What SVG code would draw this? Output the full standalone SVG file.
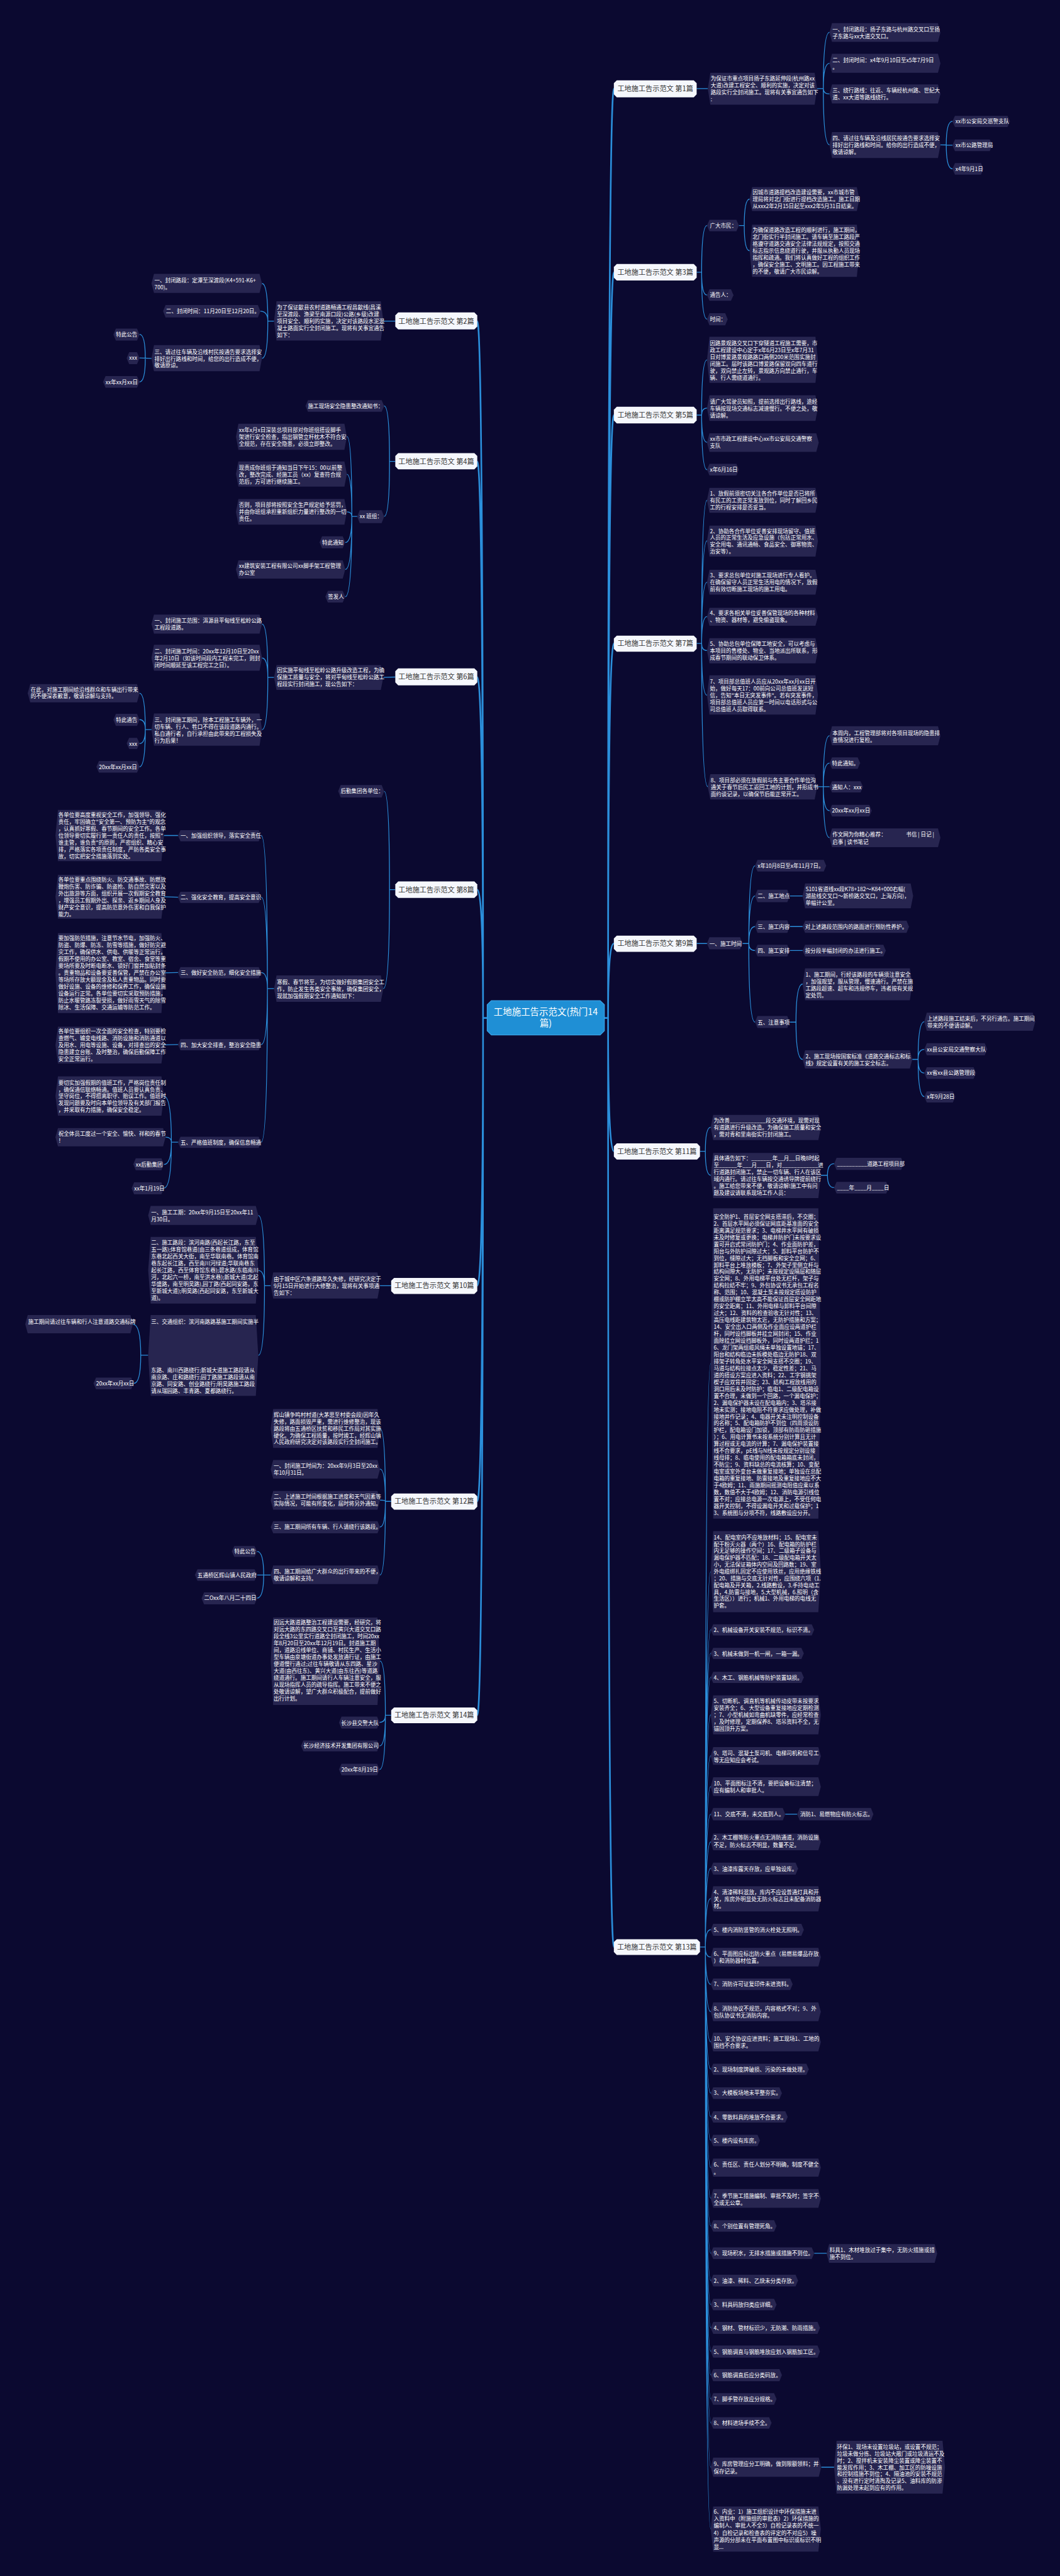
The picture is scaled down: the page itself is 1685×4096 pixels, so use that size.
<svg xmlns="http://www.w3.org/2000/svg" width="1685" height="4096" viewBox="0 0 1685 4096">
<style>
.bg{fill:#0b0930}
.lf{fill:#272550}
.tx{font-family:"Noto Sans CJK SC","Noto Sans",sans-serif;font-size:13px;fill:#ffffff}
.n1{fill:#f5f7fc}
.t1{font-family:"Noto Sans CJK SC","Noto Sans",sans-serif;font-size:17px;fill:#333333;text-anchor:middle}
.cn{fill:#1f8fd5;stroke:#3aa2e6;stroke-width:2}
.tc{font-family:"Noto Sans CJK SC","Noto Sans",sans-serif;font-size:22px;fill:#ffffff;text-anchor:middle}
.ln{fill:none;stroke:#2b8fdb;stroke-width:2}
.tk{fill:none;stroke:#2b8fdb;stroke-width:4}
</style>
<rect class="bg" x="0" y="0" width="1685" height="4096"/>
<g transform="scale(0.658)">
<g id="connectors">
<path class="tk" d="M1460,2460 L1469,2460 Q1469,214 1483,214 M1460,2460 L1469,2460 Q1469,658 1483,658 M1460,2460 L1469,2460 Q1469,1003 1483,1003 M1460,2460 L1469,2460 Q1469,1555 1483,1555 M1460,2460 L1469,2460 Q1469,2280 1483,2280 M1460,2460 L1469,2460 Q1469,2782 1483,2782 M1460,2460 L1469,2460 Q1469,4705 1483,4705"/>
<path class="tk" d="M1177,2460 L1167,2460 Q1167,776 1153,776 M1177,2460 L1167,2460 Q1167,1115 1153,1115 M1177,2460 L1167,2460 Q1167,1636 1153,1636 M1177,2460 L1167,2460 Q1167,2150 1153,2150 M1177,2460 L1167,2460 Q1167,3107 1153,3107 M1177,2460 L1167,2460 Q1167,3628 1153,3628 M1177,2460 L1167,2460 Q1167,4145 1153,4145"/>
<path class="ln" d="M1683,214 L1710,214
M1974,214 L1989,214 Q1989,78 2004,78 M1974,214 L1989,214 Q1989,153 2004,153 M1974,214 L1989,214 Q1989,227 2004,227 M1974,214 L1989,214 Q1989,350 2004,350
M2272,350 L2286,350 Q2286,293 2301,293 M2272,350 L2301,351 M2272,350 L2286,350 Q2286,408 2301,408
M1683,658 L1695,658 Q1695,545 1708,545 M1683,658 L1695,658 Q1695,713 1708,713 M1683,658 L1695,658 Q1695,771 1708,771
M1785,545 L1798,545 Q1798,481 1811,481 M1785,545 L1798,545 Q1798,606 1811,606
M1683,1003 L1695,1003 Q1695,870 1708,870 M1683,1003 L1695,1003 Q1695,986 1708,986 M1683,1003 L1695,1003 Q1695,1069 1708,1069 M1683,1003 L1695,1003 Q1695,1135 1708,1135
M1683,1555 L1695,1555 Q1695,1209 1708,1209 M1683,1555 L1695,1555 Q1695,1307 1708,1307 M1683,1555 L1695,1555 Q1695,1407 1708,1407 M1683,1555 L1695,1555 Q1695,1490 1708,1490 M1683,1555 L1695,1555 Q1695,1572 1708,1572 M1683,1555 L1695,1555 Q1695,1680 1708,1680 M1683,1555 L1695,1555 Q1695,1901 1710,1901
M1974,1901 L1989,1901 Q1989,1778 2004,1778 M1974,1901 L1989,1901 Q1989,1844 2004,1844 M1974,1901 L2004,1901 M1974,1901 L1989,1901 Q1989,1959 2004,1959 M1974,1901 L1989,1901 Q1989,2024 2004,2024
M1683,2280 L1708,2280
M1794,2280 L1809,2280 Q1809,2092 1824,2092 M1794,2280 L1809,2280 Q1809,2165 1824,2165 M1794,2280 L1809,2280 Q1809,2239 1824,2239 M1794,2280 L1809,2280 Q1809,2297 1824,2297 M1794,2280 L1809,2280 Q1809,2470 1824,2470
M1908,2165 L1939,2165 M1908,2239 L1939,2239 M1908,2297 L1939,2297
M1908,2470 L1923,2470 Q1923,2378 1939,2378 M1908,2470 L1923,2470 Q1923,2560 1939,2560
M2204,2560 L2218,2560 Q2218,2469 2233,2469 M2204,2560 L2218,2560 Q2218,2536 2233,2536 M2204,2560 L2218,2560 Q2218,2593 2233,2593 M2204,2560 L2218,2560 Q2218,2650 2233,2650
M1691,2782 L1704,2782 Q1704,2724 1717,2724 M1691,2782 L1704,2782 Q1704,2840 1717,2840
M1983,2840 L1999,2840 Q1999,2812 2015,2812 M1983,2840 L1999,2840 Q1999,2870 2015,2870
M1897,4384 L1926,4384 M1967,5445 L1997,5445 M1984,5962 L2015,5962"/>
<path class="ln" d="M1691,4705 L1704,4705 Q1704,3295 1717,3295 M1691,4705 L1704,4705 Q1704,3798 1717,3798 M1691,4705 L1704,4705 Q1704,3938 1717,3938 M1691,4705 L1704,4705 Q1704,3995 1717,3995 M1691,4705 L1704,4705 Q1704,4053 1717,4053 M1691,4705 L1704,4705 Q1704,4144 1717,4144 M1691,4705 L1704,4705 Q1704,4243 1717,4243 M1691,4705 L1704,4705 Q1704,4317 1717,4317 M1691,4705 L1704,4705 Q1704,4384 1717,4384 M1691,4705 L1704,4705 Q1704,4451 1717,4451 M1691,4705 L1704,4705 Q1704,4515 1717,4515 M1691,4705 L1704,4705 Q1704,4588 1717,4588 M1691,4705 L1704,4705 Q1704,4663 1717,4663 M1691,4705 L1704,4705 Q1704,4729 1717,4729 M1691,4705 L1704,4705 Q1704,4795 1717,4795 M1691,4705 L1704,4705 Q1704,4861 1717,4861 M1691,4705 L1704,4705 Q1704,4934 1717,4934 M1691,4705 L1704,4705 Q1704,5000 1717,5000 M1691,4705 L1704,4705 Q1704,5058 1717,5058 M1691,4705 L1704,4705 Q1704,5115 1717,5115 M1691,4705 L1704,4705 Q1704,5172 1717,5172 M1691,4705 L1704,4705 Q1704,5238 1717,5238 M1691,4705 L1704,4705 Q1704,5312 1717,5312 M1691,4705 L1704,4705 Q1704,5379 1717,5379 M1691,4705 L1704,4705 Q1704,5445 1717,5445 M1691,4705 L1704,4705 Q1704,5511 1717,5511 M1691,4705 L1704,4705 Q1704,5569 1717,5569 M1691,4705 L1704,4705 Q1704,5625 1717,5625 M1691,4705 L1704,4705 Q1704,5682 1717,5682 M1691,4705 L1704,4705 Q1704,5739 1717,5739 M1691,4705 L1704,4705 Q1704,5797 1717,5797 M1691,4705 L1704,4705 Q1704,5855 1717,5855 M1691,4705 L1704,4705 Q1704,5962 1717,5962 M1691,4705 L1704,4705 Q1704,6111 1717,6111"/>
<path class="ln" d="M955,776 L926,776
M662,776 L647,776 Q647,685 633,685 M662,776 L647,776 Q647,752 629,752 M662,776 L647,776 Q647,866 633,866
M366,866 L351,866 Q351,808 337,808 M366,866 L337,865 M366,866 L351,866 Q351,923 337,923
M955,1115 L941,1115 Q941,981 928,981 M955,1115 L941,1115 Q941,1248 928,1248
M863,1248 L850,1248 Q850,1055 838,1055 M863,1248 L850,1248 Q850,1146 838,1146 M863,1248 L850,1248 Q850,1237 838,1237 M863,1248 L850,1248 Q850,1311 834,1311 M863,1248 L850,1248 Q850,1376 834,1376 M863,1248 L850,1248 Q850,1442 834,1442
M955,1636 L926,1637
M662,1637 L647,1637 Q647,1508 633,1508 M662,1637 L647,1637 Q647,1590 633,1590 M662,1637 L647,1637 Q647,1763 633,1763
M366,1763 L351,1763 Q351,1675 337,1675 M366,1763 L351,1763 Q351,1739 337,1739 M366,1763 L351,1763 Q351,1797 337,1797 M366,1763 L351,1763 Q351,1853 337,1853
M955,2150 L941,2150 Q941,1912 928,1912 M955,2150 L941,2150 Q941,2389 926,2389
M662,2389 L646,2389 Q646,2019 631,2019 M662,2389 L646,2389 Q646,2168 631,2168 M662,2389 L646,2389 Q646,2350 631,2350 M662,2389 L646,2389 Q646,2524 631,2524 M662,2389 L646,2389 Q646,2760 631,2760
M430,2019 L396,2019 M430,2168 L396,2167 M430,2350 L396,2351 M430,2524 L396,2525
M430,2760 L414,2760 Q414,2649 396,2649 M430,2760 L414,2760 Q414,2748 400,2748 M430,2760 L414,2760 Q414,2814 396,2814 M430,2760 L414,2760 Q414,2871 396,2871
M945,3107 L918,3107
M654,3107 L639,3107 Q639,2937 624,2937 M654,3107 L639,3107 Q639,3070 624,3070 M654,3107 L639,3107 Q639,3275 624,3275
M358,3275 L340,3275 Q340,3200 321,3200 M358,3275 L340,3275 Q340,3343 323,3343
M945,3628 L931,3628 Q931,3452 918,3452 M945,3628 L931,3628 Q931,3550 918,3550 M945,3628 L931,3628 Q931,3625 918,3625 M945,3628 L931,3628 Q931,3690 918,3690 M945,3628 L931,3628 Q931,3806 918,3806
M654,3806 L637,3806 Q637,3749 621,3749 M654,3806 L621,3806 M654,3806 L637,3806 Q637,3862 621,3862
M945,4145 L931,4145 Q931,4014 918,4014 M945,4145 L931,4145 Q931,4162 917,4162 M945,4145 L931,4145 Q931,4219 917,4219 M945,4145 L931,4145 Q931,4276 917,4276"/>
</g>

<g id="center"><polygon class="cn" points="1187,2418 1450,2418 1460,2428 1460,2491 1450,2501 1187,2501 1177,2491 1177,2428"/><text class="tc" x="1318.5" y="2453">工地施工告示范文(热门14</text><text class="tc" x="1318.5" y="2481">篇)</text></g>

<g id="n1"><polygon class="n1" points="1490,194 1676,194 1683,201 1683,228 1676,235 1490,235 1483,228 1483,201"/><text class="t1" x="1583" y="220">工地施工告示范文 第1篇</text></g>
<g id="n1-a"><polygon class="lf" points="1710,214.5 1716,176 1968,176 1974,214.5 1968,253 1716,253"/><text class="tx" x="1717" y="195"><tspan x="1717">为保证市重点项目扬子东路延伸段(杭州路xx</tspan><tspan x="1717" dy="16.6">大道)改建工程安全、顺利的实施，决定对该</tspan><tspan x="1717" dy="16.6">路段实行全封闭施工。现将有关事宜通告如下</tspan><tspan x="1717" dy="16.6">:</tspan></text></g>
<g id="n1-b1"><polygon class="lf" points="2004,78.5 2010,56 2266,56 2272,78.5 2266,101 2010,101"/><text class="tx" x="2011" y="76"><tspan x="2011">一、封闭路段：扬子东路与杭州路交叉口至扬</tspan><tspan x="2011" dy="16.6">子东路与xx大道交叉口。</tspan></text></g>
<g id="n1-b2"><polygon class="lf" points="2004,153 2010,130 2266,130 2272,153 2266,176 2010,176"/><text class="tx" x="2011" y="150"><tspan x="2011">二、封闭时间：x4年9月10日至x5年7月9日</tspan><tspan x="2011" dy="16.6">。</tspan></text></g>
<g id="n1-b3"><polygon class="lf" points="2004,227 2010,204 2266,204 2272,227 2266,250 2010,250"/><text class="tx" x="2011" y="224"><tspan x="2011">三、绕行路线：往返、车辆经杭州路、世纪大</tspan><tspan x="2011" dy="16.6">道、xx大道等路线绕行。</tspan></text></g>
<g id="n1-b4"><polygon class="lf" points="2004,350.5 2010,319 2266,319 2272,350.5 2266,382 2010,382"/><text class="tx" x="2011" y="339"><tspan x="2011">四、请过往车辆及沿线居民按通告要求选择安</tspan><tspan x="2011" dy="16.6">排好出行路线和时间。给你的出行造成不便，</tspan><tspan x="2011" dy="16.6">敬请谅解。</tspan></text></g>
<g id="n1-c1"><polygon class="lf" points="2301,293.5 2307,280 2434,280 2440,293.5 2434,307 2307,307"/><text class="tx" x="2308" y="298">xx市公安局交巡警支队</text></g>
<g id="n1-c2"><polygon class="lf" points="2301,351 2307,337 2391,337 2397,351 2391,365 2307,365"/><text class="tx" x="2308" y="356">xx市公路管理局</text></g>
<g id="n1-c3"><polygon class="lf" points="2301,408 2307,394 2370,394 2376,408 2370,422 2307,422"/><text class="tx" x="2308" y="413">x4年9月1日</text></g>

<g id="n3"><polygon class="n1" points="1490,638 1676,638 1683,645 1683,671 1676,678 1490,678 1483,671 1483,645"/><text class="t1" x="1583" y="664">工地施工告示范文 第3篇</text></g>
<g id="n3-a"><polygon class="lf" points="1708,545 1714,531 1779,531 1785,545 1779,559 1714,559"/><text class="tx" x="1715" y="550">广大市民：</text></g>
<g id="n3-b"><polygon class="lf" points="1708,713 1714,699 1766,699 1772,713 1766,727 1714,727"/><text class="tx" x="1715" y="718">通告人：</text></g>
<g id="n3-c"><polygon class="lf" points="1708,771.5 1714,757 1752,757 1758,771.5 1752,786 1714,786"/><text class="tx" x="1715" y="776">时间：</text></g>
<g id="n3-a1"><polygon class="lf" points="1811,481 1817,452 2070,452 2076,481 2070,510 1817,510"/><text class="tx" x="1818" y="470"><tspan x="1818">因城市道路提档改造建设需要，xx市城市管</tspan><tspan x="1818" dy="16.6">理局将对北门街进行提档改造施工。施工日期</tspan><tspan x="1818" dy="16.6">从xxx2年2月15日起至xxx2年5月31日结束。</tspan></text></g>
<g id="n3-a2"><polygon class="lf" points="1811,606 1817,543 2070,543 2076,606 2070,669 1817,669"/><text class="tx" x="1818" y="561"><tspan x="1818">为确保道路改造工程的顺利进行，施工期间，</tspan><tspan x="1818" dy="16.8">北门街实行半封闭施工。请车辆至施工路段严</tspan><tspan x="1818" dy="16.8">格遵守道路交通安全法律法规规定，按照交通</tspan><tspan x="1818" dy="16.8">标志指示信息绕道行驶，并服从执勤人员现场</tspan><tspan x="1818" dy="16.8">指挥和疏通。我们将认真做好工程的组织工作</tspan><tspan x="1818" dy="16.8">，确保安全施工、文明施工。因工程施工带来</tspan><tspan x="1818" dy="16.8">的不便，敬请广大市民谅解。</tspan></text></g>

<g id="n5"><polygon class="n1" points="1490,983 1676,983 1683,990 1683,1016 1676,1023 1490,1023 1483,1016 1483,990"/><text class="t1" x="1583" y="1009">工地施工告示范文 第5篇</text></g>
<g id="n5-a"><polygon class="lf" points="1708,869.5 1714,814 1970,814 1976,869.5 1970,925 1714,925"/><text class="tx" x="1715" y="834"><tspan x="1715">因路景观路交叉口下穿隧道工程施工需要，市</tspan><tspan x="1715" dy="16.7">政工程建设中心定于x年6月23日至x年7月31</tspan><tspan x="1715" dy="16.7">日对博爱路景观路路口两侧200米范围实施封</tspan><tspan x="1715" dy="16.7">闭施工。届时该路口博爱路保留双向四车道行</tspan><tspan x="1715" dy="16.7">驶，双向禁止左转，景观路方向禁止通行，车</tspan><tspan x="1715" dy="16.7">辆、行人需绕道通行。</tspan></text></g>
<g id="n5-b"><polygon class="lf" points="1708,986 1714,955 1970,955 1976,986 1970,1017 1714,1017"/><text class="tx" x="1715" y="975"><tspan x="1715">请广大驾驶员知照，提前选择出行路线，途经</tspan><tspan x="1715" dy="16.7">车辆按现场交通标志减速慢行。不便之处，敬</tspan><tspan x="1715" dy="16.7">请谅解。</tspan></text></g>
<g id="n5-c"><polygon class="lf" points="1708,1069.5 1714,1047 1972,1047 1978,1069.5 1972,1092 1714,1092"/><text class="tx" x="1715" y="1066"><tspan x="1715">xx市市政工程建设中心xx市公安局交通警察</tspan><tspan x="1715" dy="16.7">支队</tspan></text></g>
<g id="n5-d"><polygon class="lf" points="1708,1135 1714,1121 1779,1121 1785,1135 1779,1149 1714,1149"/><text class="tx" x="1715" y="1140">x年6月16日</text></g>

<g id="n7"><polygon class="n1" points="1490,1536 1676,1536 1683,1543 1683,1568 1676,1575 1490,1575 1483,1568 1483,1543"/><text class="t1" x="1583" y="1561">工地施工告示范文 第7篇</text></g>
<g id="n7-a"><polygon class="lf" points="1708,1209 1714,1179 1970,1179 1976,1209 1970,1239 1714,1239"/><text class="tx" x="1715" y="1197"><tspan x="1715">1、放假前须密切关注各合作单位是否已将所</tspan><tspan x="1715" dy="16.7">有民工的工资正常发放到位，同时了解回乡民</tspan><tspan x="1715" dy="16.7">工的行程安排是否妥当。</tspan></text></g>
<g id="n7-b"><polygon class="lf" points="1708,1307.5 1714,1270 1970,1270 1976,1307.5 1970,1345 1714,1345"/><text class="tx" x="1715" y="1288"><tspan x="1715">2、协助各合作单位妥善安排现场留守、值班</tspan><tspan x="1715" dy="16.7">人员的正常生活及应急设施（包括正常用水、</tspan><tspan x="1715" dy="16.7">安全用电、通讯通畅、食品安全、御寒物资、</tspan><tspan x="1715" dy="16.7">治安等）。</tspan></text></g>
<g id="n7-c"><polygon class="lf" points="1708,1407 1714,1377 1970,1377 1976,1407 1970,1437 1714,1437"/><text class="tx" x="1715" y="1395"><tspan x="1715">3、要求总包单位对施工现场进行专人看护。</tspan><tspan x="1715" dy="16.7">在确保留守人员正常生活用电的情况下，放假</tspan><tspan x="1715" dy="16.7">前有效切断施工现场的施工用电。</tspan></text></g>
<g id="n7-d"><polygon class="lf" points="1708,1490.5 1714,1469 1970,1469 1976,1490.5 1970,1512 1714,1512"/><text class="tx" x="1715" y="1487"><tspan x="1715">4、要求各相关单位妥善保管现场的各种材料</tspan><tspan x="1715" dy="16.7">、物资、器材等，避免偷盗现象。</tspan></text></g>
<g id="n7-e"><polygon class="lf" points="1708,1572.5 1714,1542 1970,1542 1976,1572.5 1970,1603 1714,1603"/><text class="tx" x="1715" y="1561"><tspan x="1715">5、协助总包单位保障工地安全，可以考虑与</tspan><tspan x="1715" dy="16.7">本项目的售楼处、物业、当地派出所联系，形</tspan><tspan x="1715" dy="16.7">成春节期间的联动保卫体系。</tspan></text></g>
<g id="n7-f"><polygon class="lf" points="1708,1679.5 1714,1632 1970,1632 1976,1679.5 1970,1727 1714,1727"/><text class="tx" x="1715" y="1652"><tspan x="1715">7、项目部总值班人员应从20xx年xx月xx日开</tspan><tspan x="1715" dy="16.7">始，做好每天17：00前向公司总值班发送短</tspan><tspan x="1715" dy="16.7">信，告知"本日无突发事件"。若有突发事件，</tspan><tspan x="1715" dy="16.7">项目部总值班人员应第一时间以电话形式与公</tspan><tspan x="1715" dy="16.7">司总值班人员取得联系。</tspan></text></g>
<g id="n7-g"><polygon class="lf" points="1710,1901.5 1716,1871 1968,1871 1974,1901.5 1968,1932 1716,1932"/><text class="tx" x="1717" y="1890"><tspan x="1717">8、项目部必须在放假前与各主要合作单位沟</tspan><tspan x="1717" dy="16.8">通关于春节后民工返回工地的计划，并形成书</tspan><tspan x="1717" dy="16.8">面约谈记录，以确保节后能正常开工。</tspan></text></g>
<g id="n7-g1"><polygon class="lf" points="2004,1778 2010,1755 2266,1755 2272,1778 2266,1801 2010,1801"/><text class="tx" x="2011" y="1776"><tspan x="2011">本周内，工程管理部将对各项目现场的隐患排</tspan><tspan x="2011" dy="16.8">查情况进行复检。</tspan></text></g>
<g id="n7-g2"><polygon class="lf" points="2004,1844 2010,1830 2072,1830 2078,1844 2072,1858 2010,1858"/><text class="tx" x="2010" y="1850">特此通知。</text></g>
<g id="n7-g3"><polygon class="lf" points="2004,1901.5 2010,1888 2079,1888 2085,1901.5 2079,1915 2010,1915"/><text class="tx" x="2010" y="1908">通知人：xxx</text></g>
<g id="n7-g4"><polygon class="lf" points="2004,1959 2010,1945 2100,1945 2106,1959 2100,1973 2010,1973"/><text class="tx" x="2010" y="1964">20xx年xx月xx日</text></g>
<g id="n7-g5"><polygon class="lf" points="2004,2024.5 2010,2002 2266,2002 2272,2024.5 2266,2047 2010,2047"/><text class="tx" x="2011" y="2022"><tspan x="2011">作文网为你精心推荐：</tspan><tspan x="2189">书信 | 日记 |</tspan><tspan x="2011" dy="16.8">启事 | 读书笔记</tspan></text></g>

<g id="n9"><polygon class="n1" points="1490,2261 1676,2261 1683,2268 1683,2293 1676,2300 1490,2300 1483,2293 1483,2268"/><text class="t1" x="1583" y="2286">工地施工告示范文 第9篇</text></g>
<g id="n9-a"><polygon class="lf" points="1708,2279.5 1714,2265 1788,2265 1794,2279.5 1788,2294 1714,2294"/><text class="tx" x="1714" y="2285">一、施工时间</text></g>
<g id="n9-a1"><polygon class="lf" points="1824,2092 1830,2078 1990,2078 1996,2092 1990,2106 1830,2106"/><text class="tx" x="1830" y="2097">x年10月8日至x年11月7日。</text></g>
<g id="n9-a2"><polygon class="lf" points="1824,2165 1830,2150 1902,2150 1908,2165 1902,2180 1830,2180"/><text class="tx" x="1830" y="2170">二、施工地点</text></g>
<g id="n9-a3"><polygon class="lf" points="1824,2239 1830,2224 1902,2224 1908,2239 1902,2254 1830,2254"/><text class="tx" x="1830" y="2244">三、施工内容</text></g>
<g id="n9-a4"><polygon class="lf" points="1824,2297 1830,2283 1902,2283 1908,2297 1902,2311 1830,2311"/><text class="tx" x="1830" y="2302">四、施工安排</text></g>
<g id="n9-a5"><polygon class="lf" points="1824,2469.5 1830,2455 1902,2455 1908,2469.5 1902,2484 1830,2484"/><text class="tx" x="1830" y="2475">五、注意事项</text></g>
<g id="n9-b2"><polygon class="lf" points="1939,2165 1945,2135 2200,2135 2206,2165 2200,2195 1945,2195"/><text class="tx" x="1946" y="2154"><tspan x="1946">S101省道线xx段K78+182～K84+000右幅(</tspan><tspan x="1946" dy="16.6">湖盐线交叉口～新桥路交叉口，上海方向)，</tspan><tspan x="1946" dy="16.6">单幅计公里。</tspan></text></g>
<g id="n9-b3"><polygon class="lf" points="1939,2239.5 1945,2225 2190,2225 2196,2239.5 2190,2254 1945,2254"/><text class="tx" x="1945" y="2244">对上述路段范围内的路面进行预防性养护。</text></g>
<g id="n9-b4"><polygon class="lf" points="1939,2297 1945,2283 2134,2283 2140,2297 2134,2311 1945,2311"/><text class="tx" x="1945" y="2302">按分段半幅封闭的办法进行施工。</text></g>
<g id="n9-b5a"><polygon class="lf" points="1939,2378.5 1945,2340 2198,2340 2204,2378.5 2198,2417 1945,2417"/><text class="tx" x="1946" y="2360"><tspan x="1946">1、施工期间，行经该路段的车辆须注意安全</tspan><tspan x="1946" dy="16.6">，加强观望，服从管理，慢速通行。严禁在施</tspan><tspan x="1946" dy="16.6">工路段超速、超车和违规停车，违者按有关规</tspan><tspan x="1946" dy="16.6">定处罚。</tspan></text></g>
<g id="n9-b5b"><polygon class="lf" points="1939,2560 1945,2538 2198,2538 2204,2560 2198,2582 1945,2582"/><text class="tx" x="1946" y="2557"><tspan x="1946">2、施工现场按国家标准《道路交通标志和标</tspan><tspan x="1946" dy="16.8">线》规定设置有关的施工安全标志。</tspan></text></g>
<g id="n9-c1"><polygon class="lf" points="2233,2469 2239,2447 2495,2447 2501,2469 2495,2491 2239,2491"/><text class="tx" x="2240" y="2467"><tspan x="2240">上述路段施工结束后，不另行通告。施工期间</tspan><tspan x="2240" dy="16.8">带来的不便请谅解。</tspan></text></g>
<g id="n9-c2"><polygon class="lf" points="2233,2535.5 2239,2521 2379,2521 2385,2535.5 2379,2550 2239,2550"/><text class="tx" x="2239" y="2541">xx县公安局交通警察大队</text></g>
<g id="n9-c3"><polygon class="lf" points="2233,2593 2239,2579 2352,2579 2358,2593 2352,2607 2239,2607"/><text class="tx" x="2239" y="2598">xx省xx县公路管理段</text></g>
<g id="n9-c4"><polygon class="lf" points="2233,2650.5 2239,2637 2302,2637 2308,2650.5 2302,2664 2239,2664"/><text class="tx" x="2239" y="2655">x年9月28日</text></g>

<g id="n11"><polygon class="n1" points="1490,2763 1684,2763 1691,2770 1691,2795 1684,2802 1490,2802 1483,2795 1483,2770"/><text class="t1" x="1587" y="2788">工地施工告示范文 第11篇</text></g>
<g id="n11-a"><polygon class="lf" points="1717,2724.5 1723,2694 1977,2694 1983,2724.5 1977,2755 1723,2755"/><text class="tx" x="1724" y="2713"><tspan x="1724">为改善____________段交通环境，现需对现</tspan><tspan x="1724" dy="16.7">有道路进行升级改造。为确保施工质量和安全</tspan><tspan x="1724" dy="16.7">，需对青和里南街实行封闭施工。</tspan></text></g>
<g id="n11-b"><polygon class="lf" points="1717,2840.5 1723,2786 1977,2786 1983,2840.5 1977,2895 1723,2895"/><text class="tx" x="1724" y="2804"><tspan x="1724">具体通告如下：_______年__月__日晚8时起</tspan><tspan x="1724" dy="16.8">至______年___月___日，对____________进</tspan><tspan x="1724" dy="16.8">行道路封闭施工，禁止一切车辆、行人在该区</tspan><tspan x="1724" dy="16.8">域内通行。请过往车辆按交通诱导牌提前绕行</tspan><tspan x="1724" dy="16.8">。施工给您带来不便，敬请谅解!施工中有问</tspan><tspan x="1724" dy="16.8">题及建议请联系现场工作人员：</tspan></text></g>
<g id="n11-b1"><polygon class="lf" points="2015,2812.5 2021,2798 2177,2798 2183,2812.5 2177,2827 2021,2827"/><text class="tx" x="2022" y="2817">__________道路工程项目部</text></g>
<g id="n11-b2"><polygon class="lf" points="2015,2870 2021,2856 2141,2856 2147,2870 2141,2884 2021,2884"/><text class="tx" x="2022" y="2875">____年____月____日</text></g>

<g id="n13"><polygon class="n1" points="1490,4686 1684,4686 1691,4693 1691,4717 1684,4724 1490,4724 1483,4717 1483,4693"/><text class="t1" x="1587" y="4711">工地施工告示范文 第13篇</text></g>
<g id="n13-g1"><polygon class="lf" points="1717,3295 1723,2920 1977,2920 1983,3295 1977,3670 1723,3670"/><text class="tx" x="1724" y="2945"><tspan x="1724">安全防护1、首层安全网支搭滞后，不交圈；</tspan><tspan x="1724" dy="16.65">2、首层水平网必须保证网底距基准面的安全</tspan><tspan x="1724" dy="16.65">距离满足规范要求；3、电梯井水平网有破损</tspan><tspan x="1724" dy="16.65">未及时修复或更换；电梯井防护门未按要求设</tspan><tspan x="1724" dy="16.65">置可开启式常闭防护门；4、作业面防护差，</tspan><tspan x="1724" dy="16.65">阳台与外防护间隙过大；5、卸料平台防护不</tspan><tspan x="1724" dy="16.65">到位，缝隙过大；无挡脚板和安全立网；6、</tspan><tspan x="1724" dy="16.65">卸料平台上堆放模板；7、外架子里侧立杆与</tspan><tspan x="1724" dy="16.65">结构间隙大，无防护；未按规定设隔层和随层</tspan><tspan x="1724" dy="16.65">安全网；8、外用电梯平台处无栏杆，架子与</tspan><tspan x="1724" dy="16.65">结构拉结不牢；9、外包协议书无承包工程名</tspan><tspan x="1724" dy="16.65">称、范围；10、混凝土泵未按规定搭设防护</tspan><tspan x="1724" dy="16.65">棚或防护棚立竿太高不能保证首层安全网距地</tspan><tspan x="1724" dy="16.65">的安全距离；11、外用电梯与卸料平台间隙</tspan><tspan x="1724" dy="16.65">过大；12、资料的检查验收无针对性；13、</tspan><tspan x="1724" dy="16.65">高压电线距建筑物太近，无防护措施和方案；</tspan><tspan x="1724" dy="16.65">14、安全出入口两侧及作业面应设两道护栏</tspan><tspan x="1724" dy="16.65">杆，同时设挡脚板并挂立网封闭；15、作业</tspan><tspan x="1724" dy="16.65">面除挂立网设挡脚板外，同时设两道护拦；1</tspan><tspan x="1724" dy="16.65">6、龙门架两组缆风绳未单独设置地锚；17、</tspan><tspan x="1724" dy="16.65">阳台和结构临边未拆模处临边无防护18、双</tspan><tspan x="1724" dy="16.65">排架子转角处水平安全网支搭不交圈；19、</tspan><tspan x="1724" dy="16.65">马道与结构拉接点太少，稳定性差；21、马</tspan><tspan x="1724" dy="16.65">道的搭设方案应进入资料；22、工字钢挑架</tspan><tspan x="1724" dy="16.65">楔子应双背并固定；23、结构工程放线用的</tspan><tspan x="1724" dy="16.65">洞口用后未及时防护；临电1、二级配电箱设</tspan><tspan x="1724" dy="16.65">置不合理，未做到一个回路，一个漏电保护；</tspan><tspan x="1724" dy="16.65">2、漏电保护器未设在配电箱内；3、塔吊接</tspan><tspan x="1724" dy="16.65">地未实测；接地电阻不符要求应做处理，补做</tspan><tspan x="1724" dy="16.65">接地并作记录；4、电器开关未注明控制设备</tspan><tspan x="1724" dy="16.65">的名称；5、配电箱防护不到位（四周须设防</tspan><tspan x="1724" dy="16.65">护栏，配电箱设门加锁，顶部有防雨防砸措施</tspan><tspan x="1724" dy="16.65">）；6、用电计算书未按系统分别计算且无计</tspan><tspan x="1724" dy="16.65">算过程或无电流的计算；7、漏电保护装置接</tspan><tspan x="1724" dy="16.65">线不合要求，pE线与N线未按规定分别设接</tspan><tspan x="1724" dy="16.65">线母排；8、临电使用的配电箱箱底未封闭，</tspan><tspan x="1724" dy="16.65">不防尘；9、资料缺总的电流核算；10、变配</tspan><tspan x="1724" dy="16.65">电室或室外变台未做重复接地；单独设在总配</tspan><tspan x="1724" dy="16.65">电箱的重复接地、防雷接地及重复接地应不大</tspan><tspan x="1724" dy="16.65">于4欧姆；11、雨施期间摇测电阻值应乘以系</tspan><tspan x="1724" dy="16.65">数，数值不大于4欧姆；12、消防电源引线位</tspan><tspan x="1724" dy="16.65">置不对；应接总电源一次电源上，不受任何电</tspan><tspan x="1724" dy="16.65">器开关控制，不得设漏电开关和过载保护；1</tspan><tspan x="1724" dy="16.65">3、系统图与分项不符，线路敷设应分开。</tspan></text></g>
<g id="n13-g2"><polygon class="lf" points="1717,3798 1723,3700 1977,3700 1983,3798 1977,3896 1723,3896"/><text class="tx" x="1724" y="3720"><tspan x="1724">14、配电室内不应堆放材料；15、配电室未</tspan><tspan x="1724" dy="16.5">配干粉灭火器（两个）16、配电箱的防护栏</tspan><tspan x="1724" dy="16.5">内无足够的操作空间；17、二级箱子设备与</tspan><tspan x="1724" dy="16.5">漏电保护器不匹配；18、二级配电箱开关太</tspan><tspan x="1724" dy="16.5">小，无法保证箱体内空间及回路数；19、室</tspan><tspan x="1724" dy="16.5">外电缆绑扎固定不应使用铁丝，应用绝缘铁线</tspan><tspan x="1724" dy="16.5">；20、措施与交底无针对性，应围绕六项（1.</tspan><tspan x="1724" dy="16.5">配电箱及开关箱，2.线路敷设，3.手持电动工</tspan><tspan x="1724" dy="16.5">具，4.防雷与接地，5.大型机械，6.照明（含</tspan><tspan x="1724" dy="16.5">生活区））进行；机械1、外用电梯的电线无</tspan><tspan x="1724" dy="16.5">护套。</tspan></text></g>
<g id="n13-g3"><polygon class="lf" points="1717,3938.5 1723,3925 1961,3925 1967,3938.5 1961,3952 1723,3952"/><text class="tx" x="1724" y="3944">2、机械设备开关安装不规范，标识不清。</text></g>
<g id="n13-g4"><polygon class="lf" points="1717,3995.5 1723,3982 1936,3982 1942,3995.5 1936,4009 1723,4009"/><text class="tx" x="1724" y="4001">3、机械未做到一机一闸，一箱一漏。</text></g>
<g id="n13-g5"><polygon class="lf" points="1717,4053.5 1723,4040 1936,4040 1942,4053.5 1936,4067 1723,4067"/><text class="tx" x="1724" y="4059">4、木工、钢筋机械等防护装置缺损。</text></g>
<g id="n13-g6"><polygon class="lf" points="1717,4144 1723,4097 1977,4097 1983,4144 1977,4191 1723,4191"/><text class="tx" x="1724" y="4116"><tspan x="1724">5、切断机、调直机等机械传动皮带未按要求</tspan><tspan x="1724" dy="16.6">安装齐全；6、大型设备重复接地应定期检测</tspan><tspan x="1724" dy="16.6">；7、小型机械如弯曲机缺零件，应经常检查</tspan><tspan x="1724" dy="16.6">，及时修理，定期保养8、塔吊资料不全，无</tspan><tspan x="1724" dy="16.6">锚固顶升方案。</tspan></text></g>
<g id="n13-g7"><polygon class="lf" points="1717,4243.5 1723,4222 1977,4222 1983,4243.5 1977,4265 1723,4265"/><text class="tx" x="1724" y="4241"><tspan x="1724">9、塔司、混凝土泵司机、电梯司机和信号工</tspan><tspan x="1724" dy="16.8">等无应知应会考试。</tspan></text></g>
<g id="n13-g8"><polygon class="lf" points="1717,4317.5 1723,4295 1977,4295 1983,4317.5 1977,4340 1723,4340"/><text class="tx" x="1724" y="4315"><tspan x="1724">10、平面图标注不清，要把设备标注清楚；</tspan><tspan x="1724" dy="16.8">应有编制人和审批人。</tspan></text></g>
<g id="n13-g9"><polygon class="lf" points="1717,4384 1723,4369 1891,4369 1897,4384 1891,4399 1723,4399"/><text class="tx" x="1724" y="4389">11、交底不清，未交底到人。</text></g>
<g id="n13-g9a"><polygon class="lf" points="1926,4384 1932,4369 2104,4369 2110,4384 2104,4399 1932,4399"/><text class="tx" x="1933" y="4389">消防1、易燃物应有防火标志。</text></g>
<g id="n13-g10"><polygon class="lf" points="1717,4451 1723,4431 1977,4431 1983,4451 1977,4471 1723,4471"/><text class="tx" x="1724" y="4446"><tspan x="1724">2、木工棚等防火重点无消防通道，消防设施</tspan><tspan x="1724" dy="16.8">不足，防火标志不明显，数量不足。</tspan></text></g>
<g id="n13-g11"><polygon class="lf" points="1717,4515.5 1723,4501 1922,4501 1928,4515.5 1922,4530 1723,4530"/><text class="tx" x="1724" y="4521">3、油漆库露天存放，应单独设库。</text></g>
<g id="n13-g12"><polygon class="lf" points="1717,4588.5 1723,4558 1977,4558 1983,4588.5 1977,4619 1723,4619"/><text class="tx" x="1724" y="4578"><tspan x="1724">4、清漆稀料混放，库内不应设普通灯具和开</tspan><tspan x="1724" dy="16.6">关，库房外明显处无防火标志且未配备消防器</tspan><tspan x="1724" dy="16.6">材。</tspan></text></g>
<g id="n13-g13"><polygon class="lf" points="1717,4663.5 1723,4649 1936,4649 1942,4663.5 1936,4678 1723,4678"/><text class="tx" x="1724" y="4669">5、楼内消防竖管的消火栓处无照明。</text></g>
<g id="n13-g14"><polygon class="lf" points="1717,4729.5 1723,4707 1977,4707 1983,4729.5 1977,4752 1723,4752"/><text class="tx" x="1724" y="4726"><tspan x="1724">6、平面图应标出防火重点（易燃易爆品存放</tspan><tspan x="1724" dy="16.8">）和消防器材位置。</tspan></text></g>
<g id="n13-g15"><polygon class="lf" points="1717,4795 1723,4781 1909,4781 1915,4795 1909,4809 1723,4809"/><text class="tx" x="1724" y="4800">7、消防许可证复印件未进资料。</text></g>
<g id="n13-g16"><polygon class="lf" points="1717,4861.5 1723,4839 1977,4839 1983,4861.5 1977,4884 1723,4884"/><text class="tx" x="1724" y="4858"><tspan x="1724">8、消防协议不规范，内容格式不对；9、外</tspan><tspan x="1724" dy="16.8">包队协议书无消防内容。</tspan></text></g>
<g id="n13-g17"><polygon class="lf" points="1717,4934.5 1723,4912 1977,4912 1983,4934.5 1977,4957 1723,4957"/><text class="tx" x="1724" y="4932"><tspan x="1724">10、安全协议应进资料；施工现场1、工地的</tspan><tspan x="1724" dy="16.8">围挡不合要求。</tspan></text></g>
<g id="n13-g18"><polygon class="lf" points="1717,5000.5 1723,4987 1948,4987 1954,5000.5 1948,5014 1723,5014"/><text class="tx" x="1724" y="5006">2、现场制度牌破损、污染的未做处理。</text></g>
<g id="n13-g19"><polygon class="lf" points="1717,5058 1723,5044 1883,5044 1889,5058 1883,5072 1723,5072"/><text class="tx" x="1724" y="5063">3、大模板场地未平整夯实。</text></g>
<g id="n13-g20"><polygon class="lf" points="1717,5115.5 1723,5102 1897,5102 1903,5115.5 1897,5129 1723,5129"/><text class="tx" x="1724" y="5121">4、零散料具的堆放不合要求。</text></g>
<g id="n13-g21"><polygon class="lf" points="1717,5172.5 1723,5159 1830,5159 1836,5172.5 1830,5186 1723,5186"/><text class="tx" x="1724" y="5178">5、楼内设有库房。</text></g>
<g id="n13-g22"><polygon class="lf" points="1717,5238 1723,5216 1977,5216 1983,5238 1977,5260 1723,5260"/><text class="tx" x="1724" y="5236"><tspan x="1724">6、责任区、责任人划分不明确，制度不健全</tspan><tspan x="1724" dy="17.5">。</tspan></text></g>
<g id="n13-g23"><polygon class="lf" points="1717,5312.5 1723,5290 1977,5290 1983,5312.5 1977,5335 1723,5335"/><text class="tx" x="1724" y="5311"><tspan x="1724">7、季节施工措施编制、审批不及时；签字不</tspan><tspan x="1724" dy="16.6">全或无公章。</tspan></text></g>
<g id="n13-g24"><polygon class="lf" points="1717,5379 1723,5365 1870,5365 1876,5379 1870,5393 1723,5393"/><text class="tx" x="1724" y="5384">8、个别位置有管理死角。</text></g>
<g id="n13-g25"><polygon class="lf" points="1717,5445 1723,5431 1961,5431 1967,5445 1961,5459 1723,5459"/><text class="tx" x="1724" y="5450">9、现场积水，无排水措施或措施不到位。</text></g>
<g id="n13-g25a"><polygon class="lf" points="1997,5445.5 2003,5423 2258,5423 2264,5445.5 2258,5468 2003,5468"/><text class="tx" x="2004" y="5442"><tspan x="2004">料具1、木材堆放过于集中，无防火措施或措</tspan><tspan x="2004" dy="16.6">施不到位。</tspan></text></g>
<g id="n13-g26"><polygon class="lf" points="1717,5511 1723,5497 1922,5497 1928,5511 1922,5525 1723,5525"/><text class="tx" x="1724" y="5516">2、油漆、稀料、乙炔未分类存放。</text></g>
<g id="n13-g27"><polygon class="lf" points="1717,5569 1723,5555 1870,5555 1876,5569 1870,5583 1723,5583"/><text class="tx" x="1724" y="5574">3、料具码放归类应详细。</text></g>
<g id="n13-g28"><polygon class="lf" points="1717,5625.5 1723,5611 1975,5611 1981,5625.5 1975,5640 1723,5640"/><text class="tx" x="1724" y="5631">4、钢材、管材标识少，无防潮、防雨措施。</text></g>
<g id="n13-g29"><polygon class="lf" points="1717,5682.5 1723,5668 1975,5668 1981,5682.5 1975,5697 1723,5697"/><text class="tx" x="1724" y="5688">5、钢筋调直与钢筋堆放应划入钢筋加工区。</text></g>
<g id="n13-g30"><polygon class="lf" points="1717,5739.5 1723,5725 1883,5725 1889,5739.5 1883,5754 1723,5754"/><text class="tx" x="1724" y="5745">6、钢筋调直后应分类码放。</text></g>
<g id="n13-g31"><polygon class="lf" points="1717,5797 1723,5783 1870,5783 1876,5797 1870,5811 1723,5811"/><text class="tx" x="1724" y="5803">7、脚手管存放应分规格。</text></g>
<g id="n13-g32"><polygon class="lf" points="1717,5855 1723,5841 1858,5841 1864,5855 1858,5869 1723,5869"/><text class="tx" x="1724" y="5860">8、材料进场手续不全。</text></g>
<g id="n13-g33"><polygon class="lf" points="1717,5962 1723,5939 1978,5939 1984,5962 1978,5985 1723,5985"/><text class="tx" x="1724" y="5959"><tspan x="1724">9、库房管理应分工明确，做到限额领料；并</tspan><tspan x="1724" dy="17.5">保存记录。</tspan></text></g>
<g id="n13-g33a"><polygon class="lf" points="2015,5962 2021,5898 2277,5898 2283,5962 2277,6026 2021,6026"/><text class="tx" x="2022" y="5918"><tspan x="2022">环保1、现场未设置垃圾站，或设置不规范；</tspan><tspan x="2022" dy="16.5">垃圾未做分拣、垃圾站大敞门或垃圾清运不及</tspan><tspan x="2022" dy="16.5">时；2、搅拌机未安装降尘装置或降尘装置不</tspan><tspan x="2022" dy="16.5">能发挥作用；3、木工棚、加工区的防噪设施</tspan><tspan x="2022" dy="16.5">和控制措施不到位；4、隔油池的安装不规范</tspan><tspan x="2022" dy="16.5">、没有进行定时清掏及记录5、油料库的防渗</tspan><tspan x="2022" dy="16.5">防漏处理未起到应有的作用。</tspan></text></g>
<g id="n13-g34"><polygon class="lf" points="1717,6111.5 1723,6057 1977,6057 1983,6111.5 1977,6166 1723,6166"/><text class="tx" x="1724" y="6075"><tspan x="1724">6、内业：1）施工组织设计中环保措施未进</tspan><tspan x="1724" dy="16.8">入资料中（附施组的审批表）2）环保措施的</tspan><tspan x="1724" dy="16.8">编制人、审批人不全3）自检记录表的不统一</tspan><tspan x="1724" dy="16.8">4）自检记录和检查表的评定的不对应5）噪</tspan><tspan x="1724" dy="16.8">声源的分部未在平面布置图中标识或标识不明</tspan><tspan x="1724" dy="16.8">显...</tspan></text></g>

<g id="n2"><polygon class="n1" points="962,755 1146,755 1153,762 1153,789 1146,796 962,796 955,789 955,762"/><text class="t1" x="1054" y="782">工地施工告示范文 第2篇</text></g>
<g id="n2-a"><polygon class="lf" points="662,775.5 668,728 920,728 926,775.5 920,823 668,823"/><text class="tx" x="669" y="748"><tspan x="669">为了保证歙县农村道路畅通工程昌歙线(昌溪</tspan><tspan x="669" dy="16.7">至深渡段、渔梁至南源口段)公路(乡级)改建</tspan><tspan x="669" dy="16.7">项目安全、顺利的实施，决定对该路段水泥混</tspan><tspan x="669" dy="16.7">凝土路面实行全封闭施工。现将有关事宜通告</tspan><tspan x="669" dy="16.7">如下：</tspan></text></g>
<g id="n2-a1"><polygon class="lf" points="366,685 372,662 627,662 633,685 627,708 372,708"/><text class="tx" x="373" y="682"><tspan x="373">一、封闭路段：定潭至深渡段(K4+591-K6+</tspan><tspan x="373" dy="16.8">700)。</tspan></text></g>
<g id="n2-a2"><polygon class="lf" points="394,752 400,737 623,737 629,752 623,767 400,767"/><text class="tx" x="401" y="757">二、封闭时间：11月20日至12月20日。</text></g>
<g id="n2-a3"><polygon class="lf" points="366,865.5 372,834 627,834 633,865.5 627,897 372,897"/><text class="tx" x="373" y="855"><tspan x="373">三、请过往车辆及沿线村民按通告要求选择安</tspan><tspan x="373" dy="16.6">排好出行路线和时间，给您的出行造成不便，</tspan><tspan x="373" dy="16.6">敬请原谅。</tspan></text></g>
<g id="n2-b1"><polygon class="lf" points="274,808.5 280,794 331,794 337,808.5 331,823 280,823"/><text class="tx" x="280" y="813">特此公告</text></g>
<g id="n2-b2"><polygon class="lf" points="306,865.5 312,851 331,851 337,865.5 331,880 312,880"/><text class="tx" x="312" y="870">xxx</text></g>
<g id="n2-b3"><polygon class="lf" points="249,923 255,909 331,909 337,923 331,937 255,937"/><text class="tx" x="255" y="928">xx年xx月xx日</text></g>

<g id="n4"><polygon class="n1" points="962,1095 1146,1095 1153,1102 1153,1127 1146,1134 962,1134 955,1127 955,1102"/><text class="t1" x="1054" y="1121">工地施工告示范文 第4篇</text></g>
<g id="n4-a"><polygon class="lf" points="738,981 744,967 922,967 928,981 922,995 744,995"/><text class="tx" x="744" y="986">施工现场安全隐患整改通知书：</text></g>
<g id="n4-b"><polygon class="lf" points="863,1248.5 869,1233 922,1233 928,1248.5 922,1264 869,1264"/><text class="tx" x="869" y="1253">xx 班组：</text></g>
<g id="n4-b1"><polygon class="lf" points="570,1055.5 576,1024 832,1024 838,1055.5 832,1087 576,1087"/><text class="tx" x="577" y="1044"><tspan x="577">xx年x月x日深装总项目部对你班组搭设脚手</tspan><tspan x="577" dy="16.6">架进行安全检查，指出钢管立杆枕木不符合安</tspan><tspan x="577" dy="16.6">全规范，存在安全隐患，必须立即整改。</tspan></text></g>
<g id="n4-b2"><polygon class="lf" points="570,1145.5 576,1115 832,1115 838,1145.5 832,1176 576,1176"/><text class="tx" x="577" y="1135"><tspan x="577">现责成你班组于通知当日下午15：00以前整</tspan><tspan x="577" dy="16.6">改，整改完成、经施工员（xx）复查符合规</tspan><tspan x="577" dy="16.6">范后，方可进行继续施工。</tspan></text></g>
<g id="n4-b3"><polygon class="lf" points="570,1237 576,1206 832,1206 838,1237 832,1268 576,1268"/><text class="tx" x="577" y="1225"><tspan x="577">否则，项目部将按照安全生产规定给予惩罚，</tspan><tspan x="577" dy="16.6">并由你班组承担重新组织力量进行整改的一切</tspan><tspan x="577" dy="16.6">责任。</tspan></text></g>
<g id="n4-b4"><polygon class="lf" points="772,1310.5 778,1296 828,1296 834,1310.5 828,1325 778,1325"/><text class="tx" x="778" y="1316">特此通知</text></g>
<g id="n4-b5"><polygon class="lf" points="570,1376 576,1354 828,1354 834,1376 828,1398 576,1398"/><text class="tx" x="577" y="1373"><tspan x="577">xx建筑安装工程有限公司xx脚手架工程管理</tspan><tspan x="577" dy="16.6">办公室</tspan></text></g>
<g id="n4-b6"><polygon class="lf" points="786,1442 792,1428 828,1428 834,1442 828,1456 792,1456"/><text class="tx" x="792" y="1447">签发人</text></g>

<g id="n6"><polygon class="n1" points="962,1615 1146,1615 1153,1622 1153,1649 1146,1656 962,1656 955,1649 955,1622"/><text class="t1" x="1054" y="1642">工地施工告示范文 第6篇</text></g>
<g id="n6-a"><polygon class="lf" points="662,1637 668,1607 920,1607 926,1637 920,1667 668,1667"/><text class="tx" x="669" y="1625"><tspan x="669">因实施平甸线至松岭公路升级改造工程，为确</tspan><tspan x="669" dy="16.6">保施工质量与安全，将对平甸线至松岭公路工</tspan><tspan x="669" dy="16.6">程段实行封闭施工，现公告如下：</tspan></text></g>
<g id="n6-a1"><polygon class="lf" points="366,1508 372,1485 627,1485 633,1508 627,1531 372,1531"/><text class="tx" x="373" y="1505"><tspan x="373">一、封闭施工范围：洱源县平甸线至松岭公路</tspan><tspan x="373" dy="16.8">工程段道路。</tspan></text></g>
<g id="n6-a2"><polygon class="lf" points="366,1589.5 372,1558 627,1558 633,1589.5 627,1621 372,1621"/><text class="tx" x="373" y="1579"><tspan x="373">二、封闭施工时间：20xx年12月10日至20xx</tspan><tspan x="373" dy="16.8">年2月10日（如该时间段内工程未完工，则封</tspan><tspan x="373" dy="16.8">闭时间顺延至该工程完工之日）。</tspan></text></g>
<g id="n6-a3"><polygon class="lf" points="366,1763 372,1724 627,1724 633,1763 627,1802 372,1802"/><text class="tx" x="373" y="1744"><tspan x="373">三、封闭施工期间，除本工程施工车辆外，一</tspan><tspan x="373" dy="16.7">切车辆、行人、牲口不得在该段道路内通行。</tspan><tspan x="373" dy="16.7">私自通行者，自行承担由此带来的工程损失及</tspan><tspan x="373" dy="16.7">行为后果！</tspan></text></g>
<g id="n6-b1"><polygon class="lf" points="67,1675 73,1653 331,1653 337,1675 331,1697 73,1697"/><text class="tx" x="74" y="1671"><tspan x="74">在此，对施工期间给沿线群众和车辆出行带来</tspan><tspan x="74" dy="16.4">的不便深表歉意，敬请谅解与支持。</tspan></text></g>
<g id="n6-b2"><polygon class="lf" points="274,1739.5 280,1725 331,1725 337,1739.5 331,1754 280,1754"/><text class="tx" x="280" y="1745">特此通告</text></g>
<g id="n6-b3"><polygon class="lf" points="306,1796.5 312,1783 331,1783 337,1796.5 331,1810 312,1810"/><text class="tx" x="312" y="1802">xxx</text></g>
<g id="n6-b4"><polygon class="lf" points="233,1853 239,1839 331,1839 337,1853 331,1867 239,1867"/><text class="tx" x="239" y="1858">20xx年xx月xx日</text></g>

<g id="n8"><polygon class="n1" points="962,2130 1146,2130 1153,2137 1153,2163 1146,2170 962,2170 955,2163 955,2137"/><text class="t1" x="1054" y="2156">工地施工告示范文 第8篇</text></g>
<g id="n8-a"><polygon class="lf" points="817,1912 823,1897 922,1897 928,1912 922,1927 823,1927"/><text class="tx" x="823" y="1917">后勤集团各单位：</text></g>
<g id="n8-b"><polygon class="lf" points="662,2389 668,2357 920,2357 926,2389 920,2421 668,2421"/><text class="tx" x="669" y="2378"><tspan x="669">寒假、春节将至，为切实做好假期集团安全工</tspan><tspan x="669" dy="16.6">作，防止发生各类安全事故，确保集团安全，</tspan><tspan x="669" dy="16.6">现就加强假期安全工作通知如下：</tspan></text></g>
<g id="n8-s1"><polygon class="lf" points="430,2019.5 436,2006 625,2006 631,2019.5 625,2033 436,2033"/><text class="tx" x="436" y="2025">一、加强组织领导，落实安全责任</text></g>
<g id="n8-s2"><polygon class="lf" points="430,2168.5 436,2155 625,2155 631,2168.5 625,2182 436,2182"/><text class="tx" x="436" y="2174">二、强化安全教育，提高安全意识</text></g>
<g id="n8-s3"><polygon class="lf" points="430,2350.5 436,2337 625,2337 631,2350.5 625,2364 436,2364"/><text class="tx" x="436" y="2356">三、做好安全防范，细化安全措施</text></g>
<g id="n8-s4"><polygon class="lf" points="430,2524.5 436,2511 625,2511 631,2524.5 625,2538 436,2538"/><text class="tx" x="436" y="2530">四、加大安全排查，整治安全隐患</text></g>
<g id="n8-s5"><polygon class="lf" points="430,2760.5 436,2747 625,2747 631,2760.5 625,2774 436,2774"/><text class="tx" x="436" y="2766">五、严格值班制度，确保信息畅通</text></g>
<g id="n8-t1"><polygon class="lf" points="134,2019 140,1957 390,1957 396,2019 390,2081 140,2081"/><text class="tx" x="141" y="1974"><tspan x="141">各单位要高度重视安全工作，加强领导、强化</tspan><tspan x="141" dy="16.7">责任，牢固确立"安全第一、预防为主"的观念</tspan><tspan x="141" dy="16.7">，认真抓好寒假、春节期间的安全工作。各单</tspan><tspan x="141" dy="16.7">位领导要切实履行第一责任人的责任，按照"</tspan><tspan x="141" dy="16.7">谁主管，谁负责"的原则，严密组织、精心安</tspan><tspan x="141" dy="16.7">排，严格落实各项责任制度，严防各类安全事</tspan><tspan x="141" dy="16.7">故，切实把安全措施落到实处。</tspan></text></g>
<g id="n8-t2"><polygon class="lf" points="134,2167 140,2114 390,2114 396,2167 390,2220 140,2220"/><text class="tx" x="141" y="2131"><tspan x="141">各单位要重点围绕防火、防交通事故、防燃放</tspan><tspan x="141" dy="16.8">鞭炮伤害、防诈骗、防盗抢、防自然灾害以及</tspan><tspan x="141" dy="16.8">外出旅游等方面，组织开展一次假期安全教育</tspan><tspan x="141" dy="16.8">，增强员工假期外出、探亲、返乡期间人身及</tspan><tspan x="141" dy="16.8">财产安全意识，提高防范意外伤害和自我保护</tspan><tspan x="141" dy="16.8">能力。</tspan></text></g>
<g id="n8-t3"><polygon class="lf" points="134,2351.5 140,2255 390,2255 396,2351.5 390,2448 140,2448"/><text class="tx" x="141" y="2272"><tspan x="141">要加强防范措施，注意节水节电，加强防火、</tspan><tspan x="141" dy="16.7">防盗、防爆、防冻、防雪等措施，做好防灾避</tspan><tspan x="141" dy="16.7">灾工作，确保供水、供电、供暖等正常运行。</tspan><tspan x="141" dy="16.7">假期不使用的办公室、教室、宿舍、食堂等重</tspan><tspan x="141" dy="16.7">要场所要及时断电断水、锁好门窗并加贴封条</tspan><tspan x="141" dy="16.7">。贵重物品和设备要妥善保管，严禁在办公室</tspan><tspan x="141" dy="16.7">等场所存放大额现金及私人贵重物品。同时要</tspan><tspan x="141" dy="16.7">做好设施、设备的维修和保养工作，确保设施</tspan><tspan x="141" dy="16.7">设备运行正常。各单位要切实采取预防措施，</tspan><tspan x="141" dy="16.7">防止水暖管路冻裂受损，做好雨雪天气的除雪</tspan><tspan x="141" dy="16.7">除冰、生活保障、交通运输等防范工作。</tspan></text></g>
<g id="n8-t4"><polygon class="lf" points="134,2525.5 140,2481 390,2481 396,2525.5 390,2570 140,2570"/><text class="tx" x="141" y="2497"><tspan x="141">各单位要组织一次全面的安全检查，特别要检</tspan><tspan x="141" dy="16.6">查燃气、输变电线路、消防设施和消防通道以</tspan><tspan x="141" dy="16.6">及用水、用电等设施、设备，对排查出的安全</tspan><tspan x="141" dy="16.6">隐患建立台账、及时整治，确保后勤保障工作</tspan><tspan x="141" dy="16.6">安全正常运行。</tspan></text></g>
<g id="n8-u1"><polygon class="lf" points="134,2648.5 140,2601 390,2601 396,2648.5 390,2696 140,2696"/><text class="tx" x="141" y="2621"><tspan x="141">要切实加强假期的值班工作，严格岗位责任制</tspan><tspan x="141" dy="16.6">，确保通信联络畅通。值班人员要认真负责、</tspan><tspan x="141" dy="16.6">坚守岗位，不得擅离职守、贻误工作。值班时</tspan><tspan x="141" dy="16.6">发现问题要及时向本单位领导及有关部门报告</tspan><tspan x="141" dy="16.6">，并采取有力措施，确保安全稳定。</tspan></text></g>
<g id="n8-u2"><polygon class="lf" points="134,2748 140,2726 394,2726 400,2748 394,2770 140,2770"/><text class="tx" x="141" y="2745"><tspan x="141">祝全体员工度过一个安全、愉快、祥和的春节</tspan><tspan x="141" dy="16.4">！</tspan></text></g>
<g id="n8-u3"><polygon class="lf" points="322,2813.5 328,2799 390,2799 396,2813.5 390,2828 328,2828"/><text class="tx" x="328" y="2819">xx后勤集团</text></g>
<g id="n8-u4"><polygon class="lf" points="318,2871.5 324,2857 390,2857 396,2871.5 390,2886 324,2886"/><text class="tx" x="324" y="2877">xx年1月19日</text></g>

<g id="n10"><polygon class="n1" points="952,3088 1146,3088 1153,3095 1153,3120 1146,3127 952,3127 945,3120 945,3095"/><text class="t1" x="1049" y="3113">工地施工告示范文 第10篇</text></g>
<g id="n10-a"><polygon class="lf" points="654,3106.5 660,3075 912,3075 918,3106.5 912,3138 660,3138"/><text class="tx" x="661" y="3096"><tspan x="661">由于城中区六条道路年久失修，经研究决定于</tspan><tspan x="661" dy="16.6">9月15日开始进行大修整治，现将有关事项通</tspan><tspan x="661" dy="16.6">告如下：</tspan></text></g>
<g id="n10-a1"><polygon class="lf" points="358,2937 364,2914 618,2914 624,2937 618,2960 364,2960"/><text class="tx" x="365" y="2934"><tspan x="365">一、施工工期：20xx年9月15日至20xx年11</tspan><tspan x="365" dy="17">月30日。</tspan></text></g>
<g id="n10-a2"><polygon class="lf" points="358,3069.5 364,2989 618,2989 624,3069.5 618,3150 364,3150"/><text class="tx" x="365" y="3008"><tspan x="365">二、施工路段：滨河南路(西起长江路，东至</tspan><tspan x="365" dy="16.6">五一路);体育馆巷道(由三条巷道组成，体育馆</tspan><tspan x="365" dy="16.6">东巷北起西关大街，南至华联南巷。体育馆南</tspan><tspan x="365" dy="16.6">巷东起长江路，西至南川河绿道;华联南巷东</tspan><tspan x="365" dy="16.6">起长江路，西至体育馆东巷);碧水路(东临南川</tspan><tspan x="365" dy="16.6">河，北起六一桥，南至洪水巷);新城大道(北起</tspan><tspan x="365" dy="16.6">华盛路，南至明昊路),园丁路(西起同安路，东</tspan><tspan x="365" dy="16.6">至新城大道);明昊路(西起同安路，东至新城大</tspan><tspan x="365" dy="16.6">道)。</tspan></text></g>
<g id="n10-a3"><polygon class="lf" points="358,3275.5 364,3178 618,3178 624,3275.5 618,3373 364,3373"/><text class="tx" x="365" y="3199"><tspan x="365">三、交通组织：滨河南路路基施工期间实施半</tspan><tspan x="365" y="3316">东路、南川西路绕行;新城大道施工路段请从</tspan><tspan x="365" dy="16.7">南京路、庄和路绕行;园丁路施工路段请从南</tspan><tspan x="365" dy="16.7">京路、同安路、创业路绕行;明昊路施工路段</tspan><tspan x="365" dy="16.7">请从瑞园路、丰青路、夏都路绕行。</tspan></text></g>
<g id="n10-b1"><polygon class="lf" points="61,3200 67,3178 315,3178 321,3200 315,3222 67,3222"/><text class="tx" x="68" y="3199">施工期间请过往车辆和行人注意道路交通标牌</text></g>
<g id="n10-b3"><polygon class="lf" points="226,3343 232,3329 317,3329 323,3343 317,3357 232,3357"/><text class="tx" x="232" y="3348">20xx年xx月xx日</text></g>

<g id="n12"><polygon class="n1" points="952,3609 1146,3609 1153,3616 1153,3641 1146,3648 952,3648 945,3641 945,3616"/><text class="t1" x="1049" y="3634">工地施工告示范文 第12篇</text></g>
<g id="n12-a"><polygon class="lf" points="654,3452 660,3405 912,3405 918,3452 912,3499 660,3499"/><text class="tx" x="661" y="3424"><tspan x="661">辉山镇争鸣村村道(大茅思至村委会段)因年久</tspan><tspan x="661" dy="16.5">失修，路面损毁严重，需进行维修整治，现该</tspan><tspan x="661" dy="16.5">路段将由五通桥区扶贫和移民工作局对其实施</tspan><tspan x="661" dy="16.5">硬化。为确保工程质量，按时竣工，经辉山镇</tspan><tspan x="661" dy="16.5">人民政府研究决定对该路段实行全封闭施工。</tspan></text></g>
<g id="n12-b"><polygon class="lf" points="654,3550.5 660,3528 912,3528 918,3550.5 912,3573 660,3573"/><text class="tx" x="661" y="3547"><tspan x="661">一、封闭施工时间为：20xx年9月3日至20xx</tspan><tspan x="661" dy="16.6">年10月31日。</tspan></text></g>
<g id="n12-c"><polygon class="lf" points="654,3625.5 660,3603 912,3603 918,3625.5 912,3648 660,3648"/><text class="tx" x="661" y="3621"><tspan x="661">二、上述施工时间根据施工进度和天气因素等</tspan><tspan x="661" dy="16.6">实际情况，可能有所变化，届时将另外通知。</tspan></text></g>
<g id="n12-d"><polygon class="lf" points="654,3690.5 660,3676 912,3676 918,3690.5 912,3705 660,3705"/><text class="tx" x="661" y="3695">三、施工期间所有车辆、行人请绕行该路段。</text></g>
<g id="n12-e"><polygon class="lf" points="654,3805.5 660,3783 912,3783 918,3805.5 912,3828 660,3828"/><text class="tx" x="661" y="3802"><tspan x="661">四、施工期间给广大群众的出行带来的不便，</tspan><tspan x="661" dy="16.6">敬请谅解和支持。</tspan></text></g>
<g id="n12-f1"><polygon class="lf" points="560,3749 566,3736 615,3736 621,3749 615,3762 566,3762"/><text class="tx" x="566" y="3754">特此公告</text></g>
<g id="n12-f2"><polygon class="lf" points="471,3806 477,3792 615,3792 621,3806 615,3820 477,3820"/><text class="tx" x="477" y="3811">五通桥区辉山镇人民政府</text></g>
<g id="n12-f3"><polygon class="lf" points="487,3862.5 493,3848 615,3848 621,3862.5 615,3877 493,3877"/><text class="tx" x="493" y="3867">二Oxx年八月二十四日</text></g>

<g id="n14"><polygon class="n1" points="952,4126 1146,4126 1153,4133 1153,4157 1146,4164 952,4164 945,4157 945,4133"/><text class="t1" x="1049" y="4151">工地施工告示范文 第14篇</text></g>
<g id="n14-a"><polygon class="lf" points="654,4014.5 660,3909 912,3909 918,4014.5 912,4120 660,4120"/><text class="tx" x="661" y="3925"><tspan x="661">因远大路道路整治工程建设需要，经研究，将</tspan><tspan x="661" dy="16.7">对远大路的东四路交叉口至黄兴大道交叉口路</tspan><tspan x="661" dy="16.7">段全线3公里实行道路全封闭施工，时间20xx</tspan><tspan x="661" dy="16.7">年8月20日至20xx年12月19日。封道施工期</tspan><tspan x="661" dy="16.7">间，道路沿线单位、商铺、村民生产、生活小</tspan><tspan x="661" dy="16.7">型车辆由泉塘街道办事处发放通行证，由施工</tspan><tspan x="661" dy="16.7">便道慢行通过;过往车辆敬请从东四路、星沙</tspan><tspan x="661" dy="16.7">大道(由西往东)、黄兴大道(由东往西)等道路</tspan><tspan x="661" dy="16.7">绕道通行。施工期间请行人车辆注意安全，服</tspan><tspan x="661" dy="16.7">从现场指挥人员的疏导指挥。施工带来不便之</tspan><tspan x="661" dy="16.7">处敬请谅解，望广大群众积极配合，提前做好</tspan><tspan x="661" dy="16.7">出行计划。</tspan></text></g>
<g id="n14-b"><polygon class="lf" points="819,4162.5 825,4148 911,4148 917,4162.5 911,4177 825,4177"/><text class="tx" x="824" y="4168">长沙县交警大队</text></g>
<g id="n14-c"><polygon class="lf" points="727,4219 733,4206 911,4206 917,4219 911,4232 733,4232"/><text class="tx" x="733" y="4224">长沙经济技术开发集团有限公司</text></g>
<g id="n14-d"><polygon class="lf" points="819,4276 825,4262 911,4262 917,4276 911,4290 825,4290"/><text class="tx" x="825" y="4281">20xx年8月19日</text></g>
</g>
</svg>
